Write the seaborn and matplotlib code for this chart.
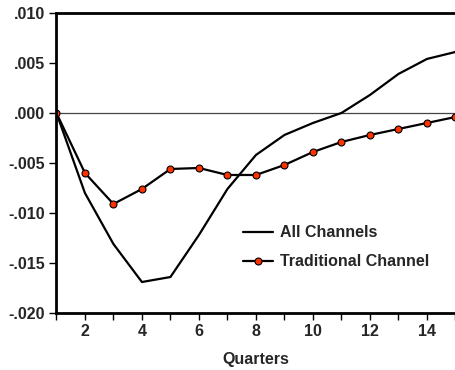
import seaborn as sns
import matplotlib.pyplot as plt
import pandas as pd
from matplotlib.ticker import FuncFormatter, MultipleLocator

quarters = list(range(1, 16))
all_channels = [0.0, -0.0080, -0.0131, -0.0169, -0.0164, -0.0122, -0.0076, -0.0042,
                -0.0022, -0.0010, 0.0000, 0.0018, 0.0039, 0.0054, 0.0061]
traditional = [0.0, -0.0060, -0.0091, -0.0076, -0.0056, -0.0055, -0.0062, -0.0062,
               -0.0052, -0.0039, -0.0029, -0.0022, -0.0016, -0.0010, -0.0004]

df = pd.DataFrame({'quarter': quarters, 'all': all_channels, 'trad': traditional})

sns.set_style("white")
plt.rcParams['font.family'] = ['Liberation Sans', 'DejaVu Sans']
plt.rcParams['font.weight'] = 'bold'

fig = plt.figure(figsize=(4.55, 3.70), dpi=100)
ax = fig.add_axes([0.124, 0.154, 0.877, 0.811])

ax.axhline(0, color='#444444', lw=0.9, zorder=1)
sns.lineplot(x='quarter', y='all', data=df, ax=ax, color='black', lw=1.6, label='All Channels')
sns.lineplot(x='quarter', y='trad', data=df, ax=ax, color='black', lw=1.6, marker='o',
             markersize=5, markerfacecolor='#ff3300', markeredgecolor='black',
             markeredgewidth=0.8, label='Traditional Channel')

ax.set_xlim(1, 15)
ax.set_ylim(-0.020, 0.010)
ax.xaxis.set_major_locator(MultipleLocator(2))
ax.xaxis.set_minor_locator(MultipleLocator(1))
ax.yaxis.set_major_locator(MultipleLocator(0.005))


def fmt(v, pos):
    s = '%.3f' % v
    if s.startswith('-0'):
        s = '-' + s[2:]
    elif s.startswith('0'):
        s = s[1:]
    if s == '-.000':
        s = '.000'
    return s


ax.yaxis.set_major_formatter(FuncFormatter(fmt))
ax.tick_params(axis='both', which='both', direction='out', length=5, width=1,
               color='black', labelsize=11.5, pad=3)
ax.tick_params(axis='x', which='both', bottom=True)
ax.tick_params(axis='y', left=True)
for lab in ax.get_xticklabels() + ax.get_yticklabels():
    lab.set_fontweight('bold')

for side in ['left', 'bottom', 'top']:
    ax.spines[side].set_color('black')
    ax.spines[side].set_linewidth(2)
ax.spines['right'].set_visible(False)

ax.set_xlabel('Quarters', fontsize=11.5, fontweight='bold', labelpad=9)
ax.set_ylabel('')

leg = ax.legend(loc='center left', bbox_to_anchor=(0.431, 0.219), frameon=False,
                prop={'weight': 'bold', 'size': 11.5}, handlelength=1.9,
                handletextpad=0.45, labelspacing=0.9)

fig.savefig('out.png', dpi=100)
